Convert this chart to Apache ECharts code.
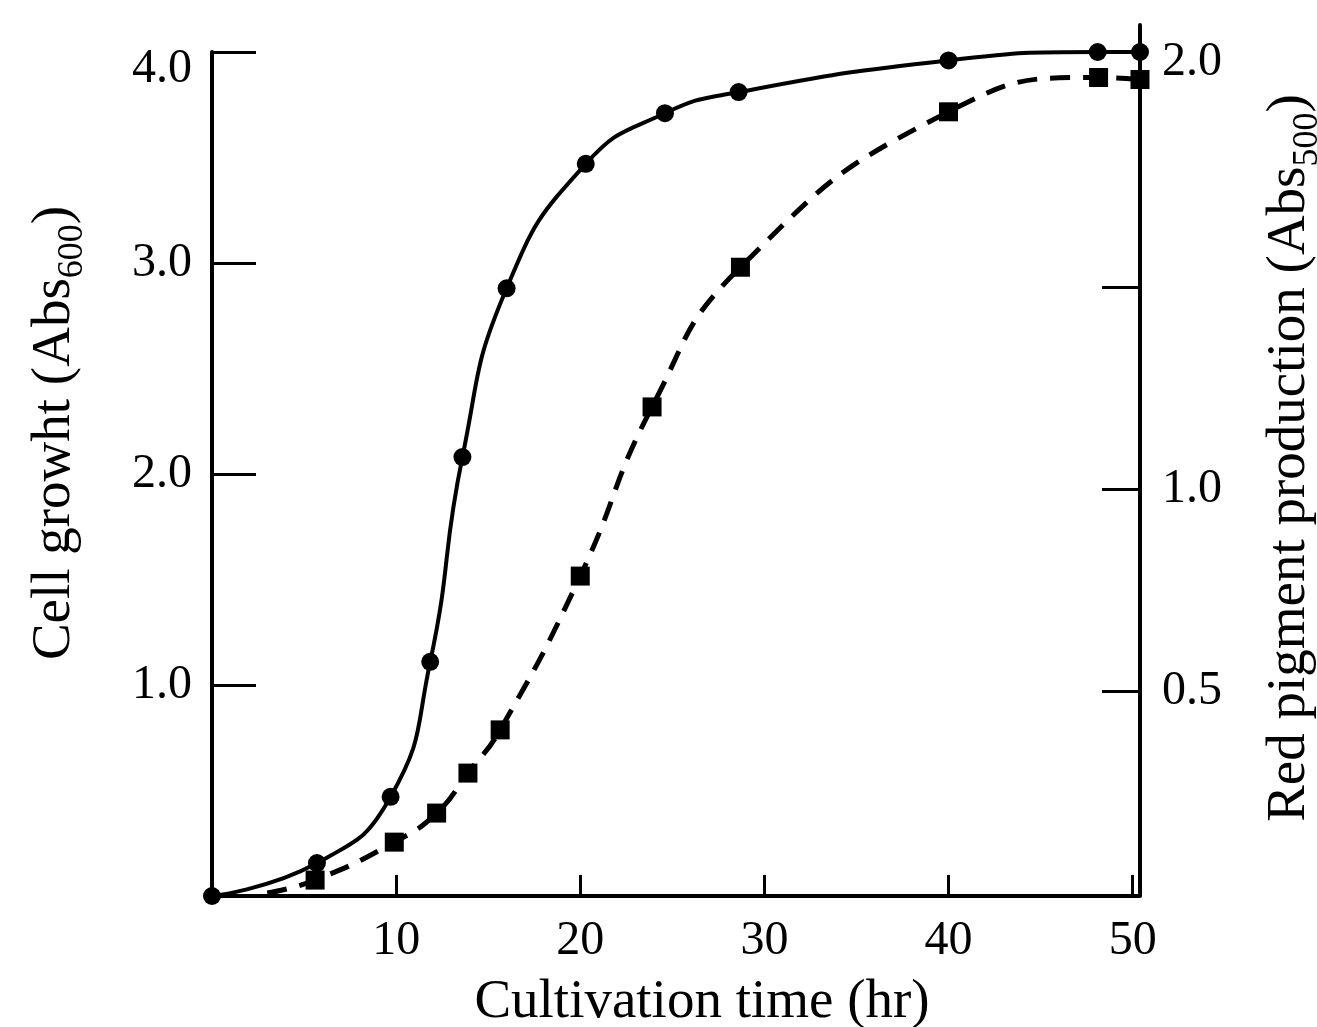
<!DOCTYPE html>
<html>
<head>
<meta charset="utf-8">
<script src="https://cdn.jsdelivr.net/npm/echarts@6/dist/echarts.min.js"></script>
<style>
  html, body { margin: 0; padding: 0; background: #fff; }
  #chart { width: 1317px; height: 1027px; }
</style>
</head>
<body>
<div id="chart"></div>
<script>
// cell growth (left axis, Abs600), circles + solid line
const growthHours = [0, 5.7, 9.7, 11.85, 13.6, 16.0, 20.3, 24.6, 28.6, 40.0, 48.1, 50.4]
const cellGrowth = [0, 0.156, 0.47, 1.11, 2.08, 2.88, 3.47, 3.71, 3.81, 3.96, 4.0, 4.0]
// red pigment (right axis, Abs500), squares + dashed line; first entry is where the curve leaves the baseline
const pigmentHours = [3.0, 5.6, 9.9, 12.2, 13.9, 15.65, 20.0, 23.9, 28.7, 40.0, 48.15, 50.4]
const pigment = [0, 0.032, 0.126, 0.198, 0.297, 0.404, 0.785, 1.204, 1.55, 1.935, 2.02, 2.015]
// labelled ticks
const xLabels = [10, 20, 30, 40, 50]
const leftLabels = [1, 2, 3, 4]
const rightLabels = [0.5, 1, 2]
const rightTicks = [0.5, 1, 1.5]

const FONT = 'Liberation Serif'
const chart = echarts.init(document.getElementById('chart'))

const growthData = growthHours.map((t, i) => [t, cellGrowth[i]])
const pigmentData = pigmentHours.map((t, i) => {
  if (i === 0) return { value: [t, pigment[i]], symbol: 'none' }
  return [t, pigment[i]]
})

const line = { onZero: false, lineStyle: { color: '#000', width: 4 } }

chart.setOption({
  animation: false,
  grid: [
    { left: 212, right: 177, top: 52, bottom: 131 },
    { left: 212, right: 177, top: 25, bottom: 134 }
  ],
  xAxis: [
    {
      type: 'value', gridIndex: 0, min: 0, max: 50.4, interval: 10,
      axisLine: line,
      axisTick: { inside: true, length: 21, lineStyle: { color: '#000', width: 3 } },
      splitLine: { show: false },
      axisLabel: {
        margin: 21, color: '#000', fontFamily: FONT, fontSize: 48,
        formatter: v => xLabels.indexOf(v) >= 0 ? String(v) : ''
      }
    },
    {
      type: 'value', gridIndex: 1, min: 0, max: 50.4, show: false
    }
  ],
  yAxis: [
    {
      type: 'value', gridIndex: 0, position: 'left', min: 0, max: 4, interval: 1,
      axisLine: line,
      axisTick: { inside: true, length: 44, lineStyle: { color: '#000', width: 3 } },
      splitLine: { show: false },
      axisLabel: {
        margin: 20, color: '#000', fontFamily: FONT, fontSize: 48,
        formatter: v => {
          if (leftLabels.indexOf(v) < 0) return ''
          return v === 4 ? '{low|4.0}' : v.toFixed(1)
        },
        rich: {
          low: { fontFamily: FONT, fontSize: 48, color: '#000', padding: [34, 0, 0, 0] }
        }
      }
    },
    {
      type: 'value', gridIndex: 1, position: 'right', min: 0, max: 2.15, interval: 0.5,
      axisLine: line,
      axisTick: { inside: true, length: 38, customValues: rightTicks, lineStyle: { color: '#000', width: 3 } },
      splitLine: { show: false },
      axisLabel: {
        margin: 22, color: '#000', fontFamily: FONT, fontSize: 48,
        customValues: rightLabels,
        formatter: v => v === 2 ? '{high|2.0}' : v.toFixed(1),
        rich: {
          high: { fontFamily: FONT, fontSize: 48, color: '#000', padding: [0, 0, 46, 0] }
        }
      }
    }
  ],
  series: [
    {
      name: 'Cell growth',
      type: 'line',
      xAxisIndex: 0, yAxisIndex: 0,
      data: growthData,
      smooth: 0.5,
      clip: false,
      symbol: 'circle',
      symbolSize: 18,
      itemStyle: { color: '#000' },
      lineStyle: { color: '#000', width: 4 }
    },
    {
      name: 'Red pigment',
      type: 'line',
      xAxisIndex: 1, yAxisIndex: 1,
      data: pigmentData,
      smooth: 0.5,
      clip: false,
      symbol: 'rect',
      symbolSize: 19,
      itemStyle: { color: '#000' },
      lineStyle: { color: '#000', width: 5, type: [20, 13] }
    }
  ],
  graphic: [
    {
      type: 'text', x: 55, y: 433, rotation: Math.PI / 2,
      style: {
        text: 'Cell growht (Abs{sub|600})',
        fontFamily: FONT, fontSize: 55, lineHeight: 72, fill: '#000',
        align: 'center', verticalAlign: 'middle',
        rich: { sub: { fontFamily: FONT, fontSize: 36, lineHeight: 36, verticalAlign: 'bottom', fill: '#000' } }
      }
    },
    {
      type: 'text', x: 1290, y: 458, rotation: Math.PI / 2,
      style: {
        text: 'Red pigment production (Abs{sub|500})',
        fontFamily: FONT, fontSize: 55, lineHeight: 72, fill: '#000',
        align: 'center', verticalAlign: 'middle',
        rich: { sub: { fontFamily: FONT, fontSize: 36, lineHeight: 36, verticalAlign: 'bottom', fill: '#000' } }
      }
    },
    {
      type: 'text', x: 702, y: 1003,
      style: {
        text: 'Cultivation time (hr)',
        fontFamily: FONT, fontSize: 55, fill: '#000',
        align: 'center', verticalAlign: 'middle'
      }
    }
  ]
})
</script>
</body>
</html>
